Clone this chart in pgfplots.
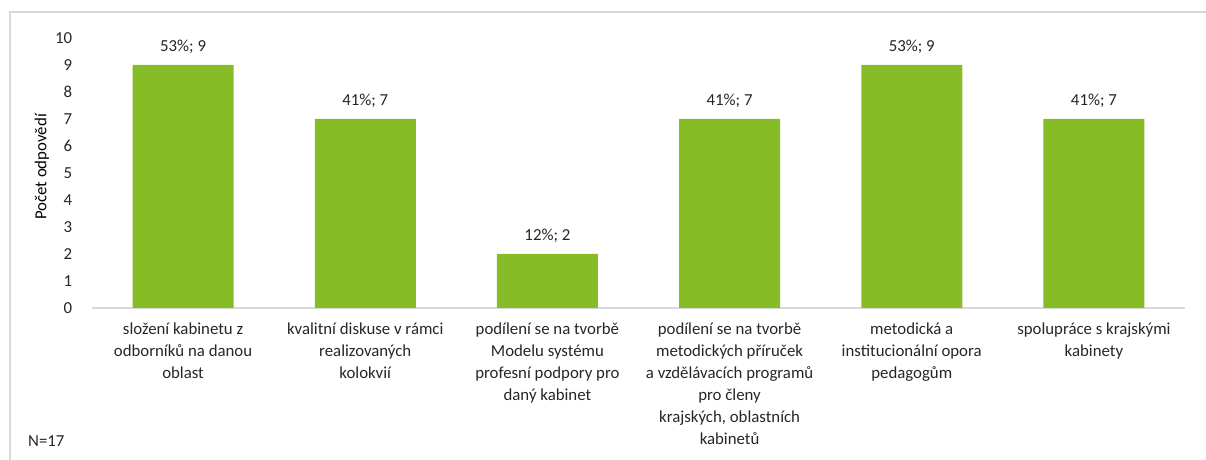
\documentclass[border=0pt]{standalone}
\usepackage{pgfplots}
\pgfplotsset{compat=1.18}
\usepackage{fontspec}
\setmainfont{Carlito}
\definecolor{barg}{RGB}{134,188,37}
\definecolor{frm}{RGB}{217,217,217}
\definecolor{txt}{RGB}{38,38,38}
\begin{document}
\fontsize{16.8bp}{22bp}\selectfont
\begin{tikzpicture}[x=1bp,y=1bp]
\useasboundingbox (0,0) rectangle (1206,460);
\draw[frm, line width=1.5bp] (10,0) -- (10,448) -- (1206,448);
\node[anchor=base west, text=txt, inner sep=0] at (28,13) {N=17};
\node[rotate=90, anchor=center, inner sep=0, text=black, font=\fontsize{16.8bp}{18bp}\selectfont] at (42,293) {Počet odpovědí};
\begin{axis}[
  at={(92bp,152bp)}, anchor=south west,
  scale only axis, width=1093bp, height=270bp,
  xmin=-0.5, xmax=5.5, ymin=0, ymax=10,
  ybar, bar width=101bp,
  /pgf/number format/assume math mode=true,
  axis x line*=bottom, axis y line*=left,
  x axis line style={draw=frm, line width=1.2bp},
  y axis line style={draw=none},
  major tick length=0pt,
  ytick={0,1,...,10},
  xtick={0,...,5},
  xticklabels={
    {složení kabinetu z\\odborníků na danou\\oblast},
    {kvalitní diskuse v rámci\\realizovaných\\kolokvií},
    {podílení se na tvorbě\\Modelu systému\\profesní podpory pro\\daný kabinet},
    {podílení se na tvorbě\\metodických příruček\\a vzdělávacích programů\\pro členy\\krajských, oblastních\\kabinetů},
    {metodická a\\institucionální opora\\pedagogům},
    {spolupráce s krajskými\\kabinety}},
  xticklabel style={align=center, text=txt, font=\fontsize{16.8bp}{22bp}\selectfont, yshift=-9bp},
  yticklabel style={text=txt, font=\fontsize{16.8bp}{18bp}\selectfont, xshift=-14bp},
  point meta=explicit symbolic,
  nodes near coords={\pgfplotspointmeta; \pgfmathprintnumber{\pgfkeysvalueof{/data point/y}}},
  nodes near coords style={text=txt, font=\fontsize{16.8bp}{18bp}\selectfont, yshift=6bp},
  clip=false,
]
\addplot[fill=barg, draw=none] coordinates {
  (0,9) [53\%]
  (1,7) [41\%]
  (2,2) [12\%]
  (3,7) [41\%]
  (4,9) [53\%]
  (5,7) [41\%]
};
\end{axis}
\end{tikzpicture}
\end{document}
